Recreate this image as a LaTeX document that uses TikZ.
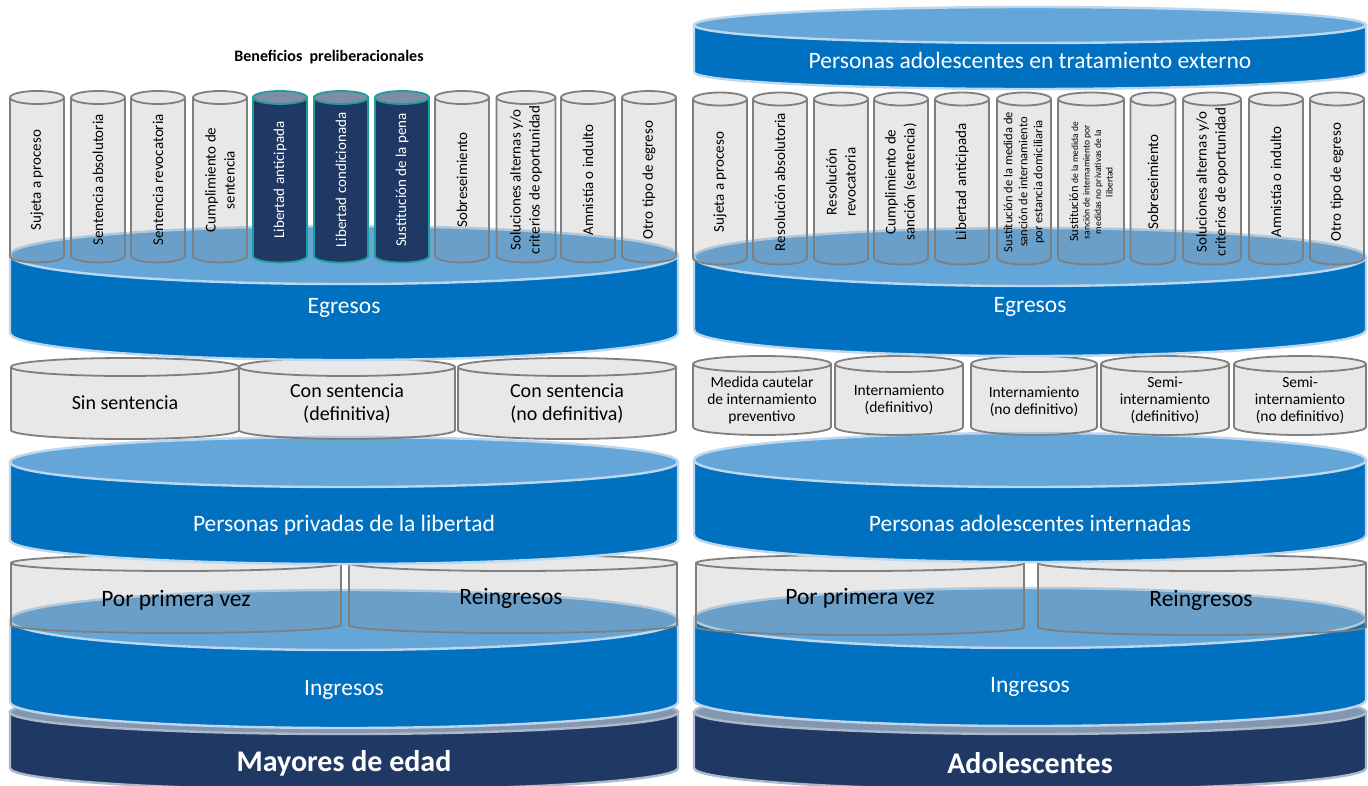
\documentclass[tikz,border=0pt]{standalone}
\usepackage{fontspec}
\setmainfont{Carlito}

\definecolor{egblue}{HTML}{0070C0}
\definecolor{egtop}{HTML}{65A6D9}
\definecolor{egrim}{HTML}{BDD7EE}
\definecolor{navy}{HTML}{203864}
\definecolor{navytop}{HTML}{8497B0}
\definecolor{navyrim}{HTML}{ADB9CA}
\definecolor{pinetop}{HTML}{7F8CA6}
\definecolor{tealrim}{HTML}{1F9E99}
\definecolor{cylgrey}{HTML}{7F7F7F}

\tikzset{
	egbody/.style={fill=egblue, draw=egrim, line width=2.4pt},
	egcap/.style={fill=egtop, draw=egrim, line width=2.4pt},
	navybody/.style={fill=navy, draw=navyrim, line width=2.4pt},
	navycap/.style={fill=navytop, draw=navyrim, line width=2.4pt},
	glass/.style={fill=black!50, fill opacity=0.18, draw=cylgrey, line width=1.8pt},
	glassrim/.style={draw=cylgrey, line width=1.8pt},
	pillar/.style={fill=navy, draw=tealrim, line width=1.8pt},
	pillarcap/.style={fill=pinetop, draw=tealrim, line width=1.8pt},
	biglabel/.style={text=white, inner sep=0pt, font=\fontsize{23.5}{28}\selectfont},
	baselabel/.style={text=white, inner sep=0pt, font=\bfseries\fontsize{30}{36}\selectfont},
	tierlabel/.style={align=center, inner sep=0pt, font=\fontsize{20}{23}\selectfont},
	cuplabel/.style={align=center, inner sep=0pt, font=\fontsize{15.5}{17}\selectfont},
	toplabel/.style={rotate=90, align=center, inner sep=0pt, font=\fontsize{15}{19}\selectfont}
}

% big layer: body style, cap style, cx, rx, top y, top ry, bottom y, bottom ry
\newcommand{\bigcyl}[8]{
	\path[#1] (#3-#4,-#5) -- (#3-#4,-#7) arc[start angle=180,end angle=360,x radius=#4,y radius=#8] -- (#3+#4,-#5) -- cycle;
	\path[#2] (#3,-#5) ellipse [x radius=#4, y radius=#6];
}
% see-through grey cylinder: cx, rx, top y, bottom y, ry
\newcommand{\glasscyl}[5]{
	\path[glass] (#1-#2,-#3) -- (#1-#2,-#4) arc[start angle=180,end angle=360,x radius=#2,y radius=#5] -- (#1+#2,-#3) arc[start angle=0,end angle=180,x radius=#2,y radius=#5] -- cycle;
	\draw[glassrim] (#1+#2,-#3) arc[start angle=0,end angle=-180,x radius=#2,y radius=#5];
}
% dark cylinder: cx, rx, top y, bottom y, ry
\newcommand{\pillarcyl}[5]{
	\path[pillar] (#1-#2,-#3) -- (#1-#2,-#4) arc[start angle=180,end angle=360,x radius=#2,y radius=#5] -- (#1+#2,-#3) -- cycle;
	\path[pillarcap] (#1,-#3) ellipse [x radius=#2, y radius=#5];
}

\begin{document}
\begin{tikzpicture}[x=1pt, y=1pt]
	\fill[white] (0,0) rectangle (1368,-785);
	\useasboundingbox (0,0) rectangle (1368,-785);

	% Mayores de edad
	\bigcyl{navybody}{navycap}{344}{334}{712}{22}{768}{22}
	\bigcyl{egbody}{egcap}{344}{334}{620}{30}{702}{26}
	\glasscyl{176}{165}{563}{625}{8}
	\glasscyl{513}{164}{563}{625}{8}
	\bigcyl{egbody}{egcap}{344}{334}{462}{25}{540}{24}
	\glasscyl{125}{114}{367}{430}{9}
	\glasscyl{347}{108}{367}{430}{9}
	\glasscyl{567}{109}{367}{430}{9}
	\bigcyl{egbody}{egcap}{344}{334}{255}{29}{333}{27}
	\foreach \cx/\rx in {37/27, 98/27, 158/27, 220/27, 462/27, 526/29.5, 588/27, 649/27}
		{\glasscyl{\cx}{\rx}{97.5}{256}{6.5}}
	\foreach \cx in {280, 341, 402}
		{\pillarcyl{\cx}{27}{97.5}{256}{6.5}}

	% Adolescentes
	\bigcyl{navybody}{navycap}{1030}{336}{712}{22}{768}{22}
	\bigcyl{egbody}{egcap}{1030}{336}{618}{30}{700}{26}
	\glasscyl{860}{164}{563}{627}{8}
	\glasscyl{1202}{164}{563}{627}{8}
	\bigcyl{egbody}{egcap}{1030}{336}{460}{27}{535}{27}
	\foreach \cx/\rx in {762/69, 899/64, 1034/63, 1165/64, 1300/66}
		{\glasscyl{\cx}{\rx}{364}{427}{8}}
	\bigcyl{egbody}{egcap}{1030}{336}{257}{29}{330}{26}
	\foreach \cx/\rx in {720/27, 780/27, 841/27, 901/27, 962/27, 1024/27, 1091/33, 1153/22.5, 1212/29, 1276/27, 1337/27}
		{\glasscyl{\cx}{\rx}{99}{258}{6.5}}
	\bigcyl{egbody}{egcap}{1030}{336}{25}{18}{72}{17}

	% labels
	\node[font=\bfseries\fontsize{16}{19}\selectfont] (benef) at (329,-57) {Beneficios\ \ preliberacionales};
	\foreach \cx/\nm/\txt in {37/sujL/{Sujeta a proceso}, 98/absL/{Sentencia absolutoria}, 158/revL/{Sentencia revocatoria}, 220/cumL/{Cumplimiento de\\sentencia}, 462/sobL/{Sobreseimiento}, 526/solL/{Soluciones alternas y/o\\criterios de oportunidad}, 588/amnL/{Amnistía o indulto}, 649/otrL/{Otro tipo de egreso}}
		{\node[toplabel] (\nm) at (\cx,-180) {\txt};}
	\foreach \cx/\nm/\txt in {280/antL/{Libertad anticipada}, 341/conL/{Libertad condicionada}, 402/penL/{Sustitución de la pena}}
		{\node[toplabel, text=white] (\nm) at (\cx,-180) {\txt};}
	\foreach \cx/\nm/\txt in {720/sujR/{Sujeta a proceso}, 780/absR/{Resolución absolutoria}, 841/revR/{Resolución\\revocatoria}, 901/cumR/{Cumplimiento de\\sanción (sentencia)}, 962/antR/{Libertad anticipada}, 1153/sobR/{Sobreseimiento}, 1212/solR/{Soluciones alternas y/o\\criterios de oportunidad}, 1276/amnR/{Amnistía o indulto}, 1337/otrR/{Otro tipo de egreso}}
		{\node[toplabel] (\nm) at (\cx,-182) {\txt};}
	\node[toplabel, font=\fontsize{12.5}{15}\selectfont] (domR) at (1024,-182) {Sustitución de la medida de\\sanción de internamiento\\por estancia domiciliaria};
	\node[toplabel, font=\fontsize{9.5}{11.5}\selectfont] (priR) at (1091,-182) {{\fontsize{12.5}{11.5}\selectfont Sustitución} de la medida de\\sanción de internamiento por\\medidas no privativas de la\\libertad};

	\node[biglabel] (extR) at (1030,-60) {Personas adolescentes en tratamiento externo};
	\node[biglabel] (egrL) at (344,-308) {Egresos};
	\node[biglabel] (egrR) at (1030,-307) {Egresos};

	\node[tierlabel] (sinL) at (125,-403) {Sin sentencia};
	\node[tierlabel] (defL) at (347,-403) {Con sentencia\\(definitiva)};
	\node[tierlabel] (ndfL) at (567,-403) {Con sentencia\\(no definitiva)};
	\node[cuplabel] (medR) at (762,-400) {Medida cautelar\\de internamiento\\preventivo};
	\node[cuplabel] (intR) at (899,-400) {Internamiento\\(definitivo)};
	\node[cuplabel] (indR) at (1034,-402) {Internamiento\\(no definitivo)};
	\node[cuplabel] (semR) at (1165,-400) {Semi-\\internamiento\\(definitivo)};
	\node[cuplabel] (snfR) at (1300,-400) {Semi-\\internamiento\\(no definitivo)};

	\node[biglabel] (pplL) at (344,-525) {Personas privadas de la libertad};
	\node[biglabel] (paiR) at (1030,-523) {Personas adolescentes internadas};

	\node[biglabel, text=black] (ppvL) at (176,-600) {Por primera vez};
	\node[biglabel, text=black] (reiL) at (511,-598) {Reingresos};
	\node[biglabel, text=black] (ppvR) at (860,-598) {Por primera vez};
	\node[biglabel, text=black] (reiR) at (1201,-600) {Reingresos};

	\node[biglabel] (ingL) at (344,-690) {Ingresos};
	\node[biglabel] (ingR) at (1030,-687) {Ingresos};
	\node[baselabel] (mayL) at (344,-763) {Mayores de edad};
	\node[baselabel] (adoR) at (1030,-763) {Adolescentes};
\end{tikzpicture}
\end{document}
